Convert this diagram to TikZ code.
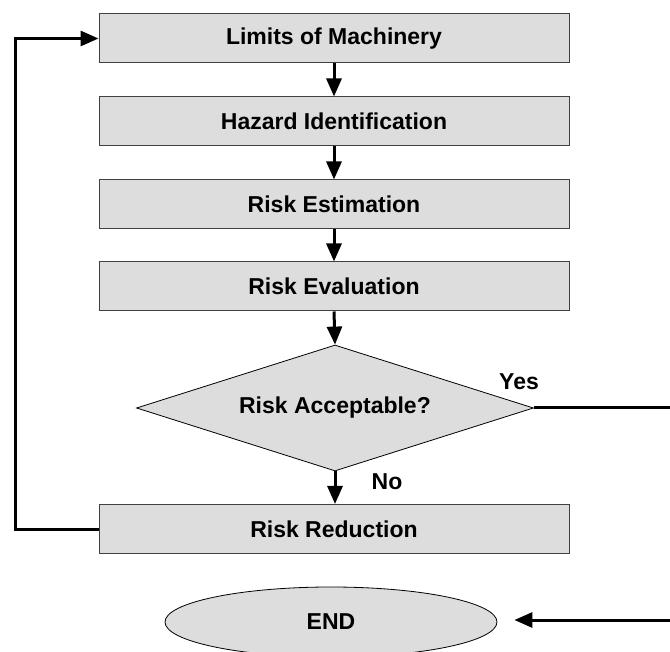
\documentclass[tikz,border=0pt]{standalone}
\usepackage{fontspec}
\setmainfont{Liberation Sans}
\usetikzlibrary{shapes.geometric,arrows.meta}
\definecolor{boxfill}{HTML}{DDDDDD}
\definecolor{boxline}{HTML}{404040}
\tikzset{
  stepbox/.style={draw=boxline, line width=1pt, fill=boxfill, rectangle,
    minimum width=470pt, minimum height=49pt, inner sep=0pt,
    font=\fontsize{23}{27}\selectfont\bfseries},
  decide/.style={draw=black, line width=0.8pt, fill=boxfill, diamond, aspect=3.15,
    minimum width=397pt, minimum height=126pt, inner sep=0pt,
    font=\fontsize{23}{27}\selectfont\bfseries},
  termin/.style={draw=black, line width=0.8pt, fill=boxfill, ellipse,
    minimum width=332pt, minimum height=70pt, inner sep=0pt,
    font=\fontsize{23}{27}\selectfont\bfseries},
  lbl/.style={font=\fontsize{23}{27}\selectfont\bfseries, inner sep=0pt},
  conn/.style={line width=3pt, black},
  arr/.style={conn, -{Triangle[length=18pt,width=15pt]}},
}
\begin{document}
\begin{tikzpicture}[x=1pt,y=-1pt]
\useasboundingbox (0,0) rectangle (670,652);
\node[stepbox] (lim) at (334,38.5) {Limits of Machinery};
\node[stepbox] (haz) at (334,121.5) {Hazard Identification};
\node[stepbox] (est) at (334,204.5) {Risk Estimation};
\node[stepbox] (evl) at (334,286.5) {Risk Evaluation};
\node[decide] (dia) at (335,408) {Risk Acceptable?};
\node[stepbox] (red) at (334,529) {Risk Reduction};
\node[termin] (fin) at (331,622) {END};
\node[lbl] (yes) at (519,382) {Yes};
\node[lbl] (no) at (387,482) {No};
\coordinate (yesend) at (672,408);
\coordinate (endstart) at (672,620);
\draw[arr] (lim) -- (haz);
\draw[arr] (haz) -- (est);
\draw[arr] (est) -- (evl);
\draw[arr] (evl.south) -- (dia.north);
\draw[arr] (dia.south) -- (dia.south |- red.north);
\draw[arr] (red.west) -- ++(-83,0) |- (lim.west);
\draw[conn] (dia.east) -- (yesend);
\draw[arr, shorten >=17pt] (endstart) -- (fin.east |- endstart);
\end{tikzpicture}
\end{document}
